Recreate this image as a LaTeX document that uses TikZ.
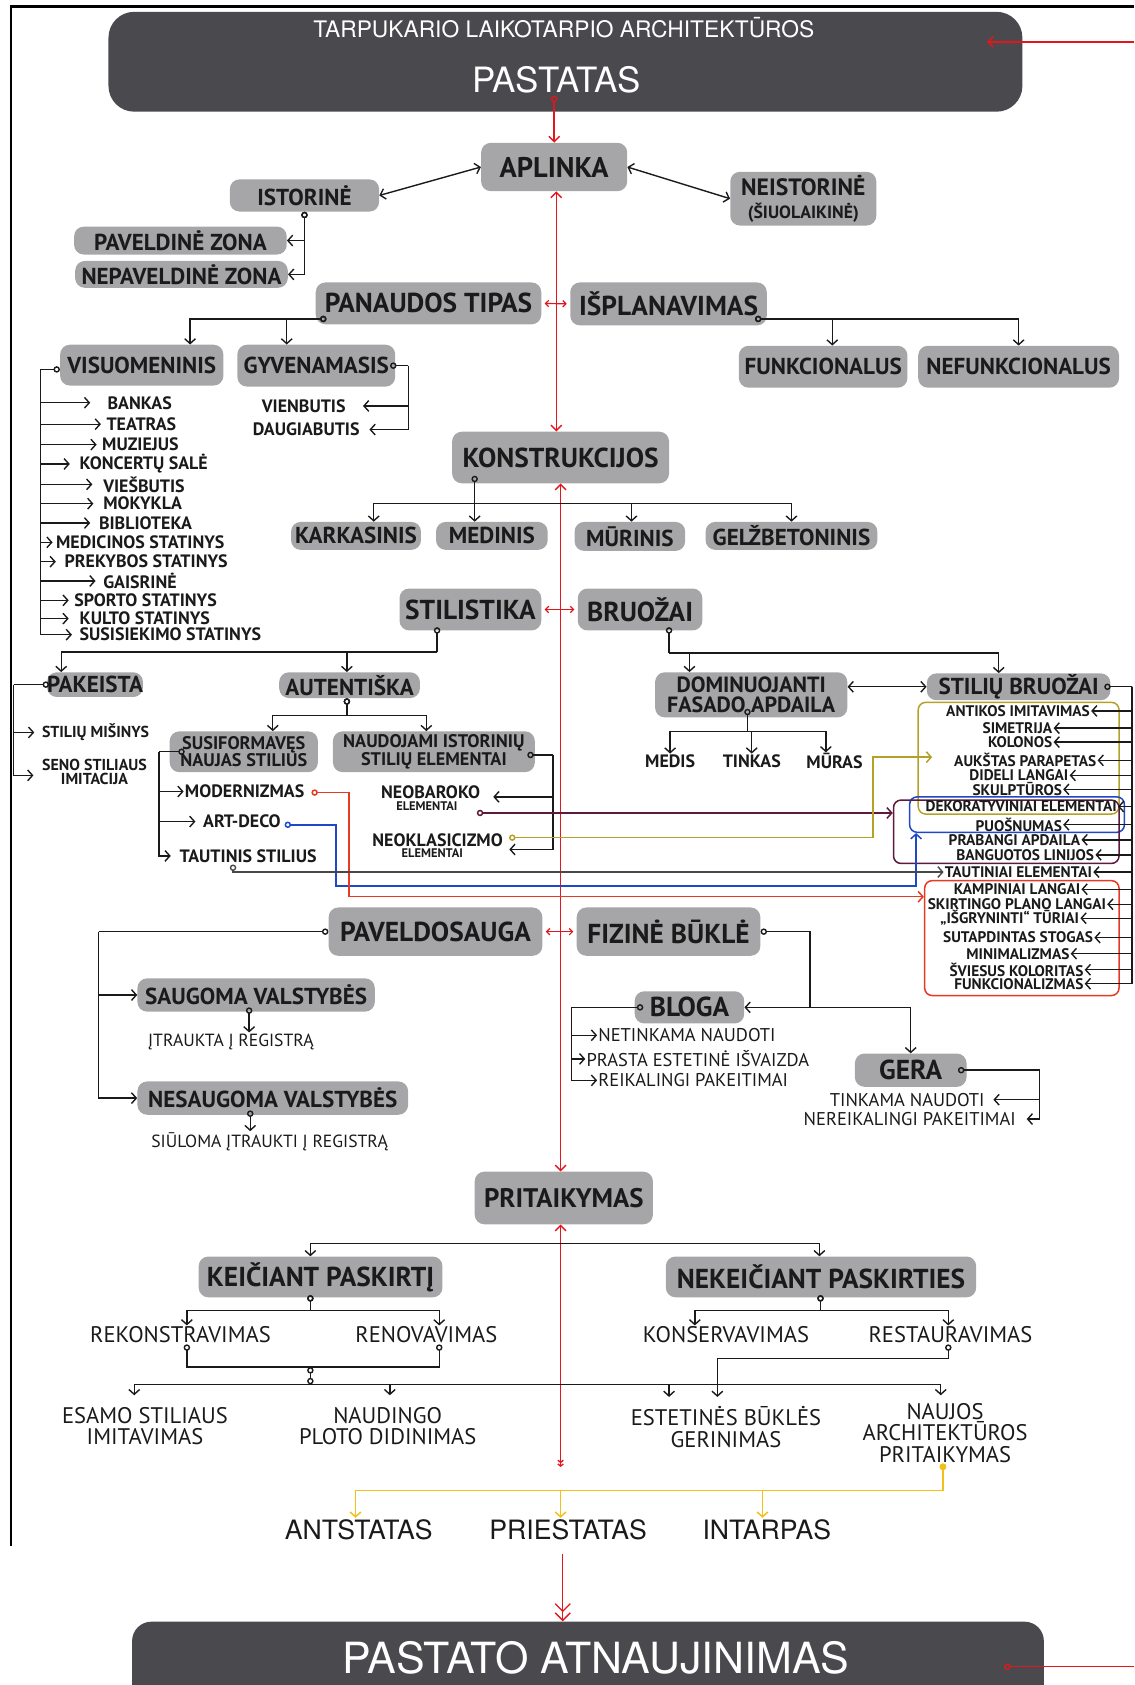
\documentclass[tikz,border=0pt]{standalone}
\usepackage{fontspec}
\setmainfont{PT Sans}
\newfontfamily\headfont{TeX Gyre Heros}
\usetikzlibrary{arrows.meta}

\definecolor{boxgray}{RGB}{166,166,168}
\definecolor{darkfill}{RGB}{74,74,78}
\definecolor{ink}{RGB}{26,26,26}
\definecolor{spine}{RGB}{226,22,28}
\definecolor{olivec}{RGB}{180,162,40}
\definecolor{bluec}{RGB}{30,72,200}
\definecolor{maroonc}{RGB}{92,26,60}
\definecolor{redc}{RGB}{230,58,36}
\definecolor{yellowc}{RGB}{243,192,26}

\tikzset{
	gbox/.style={fill=boxgray, rounded corners=9pt, inner sep=0pt, text=ink, align=center},
	bigbox/.style={gbox, font=\bfseries\fontsize{25.5}{26}\selectfont},
	midbox/.style={gbox, font=\bfseries\fontsize{21.5}{22}\selectfont},
	smlbox/.style={gbox, font=\bfseries\fontsize{17}{16}\selectfont},
	headbox/.style={fill=darkfill, rounded corners=24pt, inner sep=0pt},
	headtxt/.style={text=white, inner sep=0pt},
	lbl/.style={inner sep=1pt, text=ink, align=center, font=\bfseries\fontsize{16.7}{18}\selectfont},
	plbl/.style={inner sep=1pt, text=ink, align=center, font=\fontsize{17.2}{18}\selectfont},
	item/.style={inner sep=1pt, text=ink, anchor=east, font=\bfseries\fontsize{14.3}{14}\selectfont},
	sub/.style={inner sep=1pt, text=ink, align=center, font=\fontsize{21}{20}\selectfont},
	ext/.style={inner sep=1pt, text=ink, font=\headfont\fontsize{24.8}{26}\selectfont},
	frm/.style={rounded corners=7pt, line width=1.4pt, inner sep=0pt},
	con/.style={draw=ink, line width=1.3pt, -{Straight Barb[length=4.5pt,width=10pt]}},
	ocon/.style={con, {Circle[open,length=6pt,width=6pt]}-{Straight Barb[length=4.5pt,width=10pt]}},
	dcon/.style={con, {Straight Barb[length=4.5pt,width=10pt]}-{Straight Barb[length=4.5pt,width=10pt]}},
	lnk/.style={draw=ink, line width=1.3pt, {Circle[open,length=6pt,width=6pt]}-},
	colcon/.style={line width=1.4pt, {Circle[open,length=6pt,width=6pt]}-{Straight Barb[length=4.5pt,width=10pt]}},
	ycon/.style={draw=yellowc, line width=1.4pt, {Circle[length=6pt,width=6pt]}-{Straight Barb[length=4.5pt,width=10pt]}},
	rcon/.style={draw=spine, line width=1.3pt, -{Straight Barb[length=5pt,width=10pt]}},
	rdcon/.style={rcon, {Straight Barb[length=5pt,width=10pt]}-{Straight Barb[length=5pt,width=10pt]}},
	rocon/.style={rcon, {Circle[open,length=6pt,width=6pt]}-{Straight Barb[length=5pt,width=10pt]}},
	rlnk/.style={draw=spine, line width=1.3pt, {Circle[open,length=6pt,width=6pt]}-},
	rsmall/.style={draw=spine, line width=1.1pt, shorten <=3pt, shorten >=3pt, {Straight Barb[length=3pt,width=6pt]}-{Straight Barb[length=3pt,width=6pt]}},
}

\begin{document}
\begin{tikzpicture}[x=1pt,y=-1pt]
	\useasboundingbox (0,0) rectangle (1056,1569);
	\draw[line width=2pt] (1056,6) -- (10,6) -- (10,1440);

	\node[headbox, minimum width=851pt, minimum height=93pt] (pastatas) at (526.5,57.5) {};
	\node[headtxt, font=\headfont\fontsize{21.2}{22}\selectfont] (tarp) at (525,26) {TARPUKARIO LAIKOTARPIO ARCHITEKTŪROS};
	\node[headtxt, font=\headfont\fontsize{32.5}{34}\selectfont] (pastxt) at (518,74) {PASTATAS};

	\node[bigbox, font=\bfseries\fontsize{26.5}{28}\selectfont, minimum width=136pt, minimum height=45pt] (aplinka) at (516,155.5) {APLINKA};
	\node[midbox, minimum width=139pt, minimum height=30pt] (istorine) at (283.5,182) {ISTORINĖ};
	\node[gbox, font=\bfseries\fontsize{22}{22}\selectfont, minimum width=136pt, minimum height=50pt] (neistorine) at (748,185) {NEISTORINĖ\\{\fontsize{16.5}{18}\selectfont(ŠIUOLAIKINĖ)}};
	\node[midbox, minimum width=198pt, minimum height=26pt] (paveldine) at (168,224) {PAVELDINĖ ZONA};
	\node[midbox, minimum width=198pt, minimum height=25pt] (nepaveldine) at (169,255.5) {NEPAVELDINĖ ZONA};
	\node[bigbox, minimum width=210pt, minimum height=39pt] (panaudos) at (399,282.5) {PANAUDOS TIPAS};
	\node[bigbox, minimum width=183pt, minimum height=40pt] (isplan) at (622.5,283) {IŠPLANAVIMAS};
	\node[midbox, minimum width=152pt, minimum height=38pt] (visuom) at (132,340) {VISUOMENINIS};
	\node[midbox, minimum width=147pt, minimum height=39pt] (gyven) at (294.5,340.5) {GYVENAMASIS};
	\node[midbox, minimum width=157pt, minimum height=39pt] (funk) at (766.5,341.5) {FUNKCIONALUS};
	\node[midbox, minimum width=187pt, minimum height=39pt] (nefunk) at (948.5,341.5) {NEFUNKCIONALUS};

	\node[lbl, anchor=west] (bankas) at (99,375) {BANKAS};
	\node[lbl, anchor=west] (teatras) at (98,395) {TEATRAS};
	\node[lbl, anchor=west] (muziejus) at (94,414) {MUZIEJUS};
	\node[lbl, anchor=west] (koncertu) at (73,432) {KONCERTŲ SALĖ};
	\node[lbl, anchor=west] (viesbutis) at (95,451) {VIEŠBUTIS};
	\node[lbl, anchor=west] (mokykla) at (95,469) {MOKYKLA};
	\node[lbl, anchor=west] (biblioteka) at (91,487) {BIBLIOTEKA};
	\node[lbl, anchor=west] (medicinos) at (51,505) {MEDICINOS STATINYS};
	\node[lbl, anchor=west] (prekybos) at (59,523) {PREKYBOS STATINYS};
	\node[lbl, anchor=west] (gaisrine) at (95,541) {GAISRINĖ};
	\node[lbl, anchor=west] (sporto) at (68,559) {SPORTO STATINYS};
	\node[lbl, anchor=west] (kulto) at (73,576) {KULTO STATINYS};
	\node[lbl, anchor=west] (susisiekimo) at (73,591) {SUSISIEKIMO STATINYS};
	\node[lbl, anchor=east] (vienbutis) at (323,378) {VIENBUTIS};
	\node[lbl, anchor=east] (daugiabutis) at (336,400) {DAUGIABUTIS};

	\node[bigbox, minimum width=202pt, minimum height=48pt] (konstr) at (522,426) {KONSTRUKCIJOS};
	\node[midbox, minimum width=121pt, minimum height=26pt] (karkas) at (331.5,499) {KARKASINIS};
	\node[midbox, minimum width=104pt, minimum height=26pt] (medinis) at (458,499) {MEDINIS};
	\node[midbox, minimum width=103pt, minimum height=27pt] (murinis) at (586.5,499.5) {MŪRINIS};
	\node[midbox, minimum width=160pt, minimum height=26pt] (gelz) at (737,499) {GELŽBETONINIS};
	\node[bigbox, minimum width=132pt, minimum height=39pt] (stilist) at (438,567.5) {STILISTIKA};
	\node[bigbox, minimum width=116pt, minimum height=39pt] (bruozai) at (596,567.5) {BRUOŽAI};

	\node[midbox, minimum width=89pt, minimum height=23pt] (pakeista) at (88.5,637.5) {PAKEISTA};
	\node[midbox, minimum width=131pt, minimum height=24pt] (autent) at (325.5,638) {AUTENTIŠKA};
	\node[smlbox, minimum width=138pt, minimum height=38pt] (susif) at (227,700) {SUSIFORMAVĘS\\NAUJAS STILIUS};
	\node[smlbox, minimum width=188pt, minimum height=38pt] (naudoj) at (404,700) {NAUDOJAMI ISTORINIŲ\\STILIŲ ELEMENTAI};
	\node[lbl, font=\bfseries\fontsize{14.8}{13.5}\selectfont] (misinys) at (89,682) {STILIŲ MIŠINYS};
	\node[lbl, font=\bfseries\fontsize{14.8}{13.5}\selectfont] (seno) at (88,719) {SENO STILIAUS\\IMITACIJA};
	\node[lbl, anchor=west] (modern) at (171,737) {MODERNIZMAS};
	\node[lbl, anchor=west] (artdeco) at (188,765) {ART-DECO};
	\node[lbl, anchor=west] (tautinis) at (166,797) {TAUTINIS STILIUS};
	\node[lbl] (neobar) at (401,738) {NEOBAROKO};
	\node[lbl, font=\bfseries\fontsize{11.6}{12}\selectfont] (neobarel) at (397.5,751) {ELEMENTAI};
	\node[lbl] (neokl) at (407.5,782) {NEOKLASICIZMO};
	\node[lbl, font=\bfseries\fontsize{11.6}{12}\selectfont] (neoklel) at (402.5,794) {ELEMENTAI};

	\node[gbox, font=\bfseries\fontsize{20.5}{18}\selectfont, minimum width=179pt, minimum height=42pt] (domin) at (699.5,647) {DOMINUOJANTI\\FASADO APDAILA};
	\node[midbox, minimum width=171pt, minimum height=25pt] (stbr) at (948.5,639.5) {STILIŲ BRUOŽAI};
	\node[lbl] (medis) at (624,709) {MEDIS};
	\node[lbl] (tinkas) at (700,709) {TINKAS};
	\node[lbl] (muras) at (777,709) {MŪRAS};

	\node[frm, draw=olivec, minimum width=187pt, minimum height=104pt] (olivebox) at (948.5,706) {};
	\node[frm, draw=bluec, minimum width=200pt, minimum height=33pt] (bluebox) at (947,758.5) {};
	\node[frm, draw=maroonc, minimum width=210pt, minimum height=59pt] (maroonbox) at (937,774.5) {};
	\node[frm, draw=redc, minimum width=181pt, minimum height=107pt] (redbox) at (951.5,873.5) {};

	\node[item] (antikos) at (1016,662) {ANTIKOS IMITAVIMAS};
	\node[item] (simetrija) at (981,678) {SIMETRIJA};
	\node[item] (kolonos) at (981,691) {KOLONOS};
	\node[item] (parapetas) at (1022,708) {AUKŠTAS PARAPETAS};
	\node[item] (langai) at (996,722) {DIDELI LANGAI};
	\node[item] (skulpturos) at (990,735) {SKULPTŪROS};
	\node[item] (dekor) at (1041,751) {DEKORATYVINIAI ELEMENTAI};
	\node[item] (puosnumas) at (990,768) {PUOŠNUMAS};
	\node[item] (prabangi) at (1007,782) {PRABANGI APDAILA};
	\node[item] (banguotos) at (1020,796) {BANGUOTOS LINIJOS};
	\node[item] (tautiniai) at (1018,812) {TAUTINIAI ELEMENTAI};
	\node[item] (kampiniai) at (1007,828) {KAMPINIAI LANGAI};
	\node[item] (skirtingo) at (1031,842) {SKIRTINGO PLANO LANGAI};
	\node[item] (isgryninti) at (1006,855) {„IŠGRYNINTI“ TŪRIAI};
	\node[item] (stogas) at (1019,873) {SUTAPDINTAS STOGAS};
	\node[item] (minimal) at (997,888) {MINIMALIZMAS};
	\node[item] (kolorit) at (1010,903) {ŠVIESUS KOLORITAS};
	\node[item] (funkcion) at (1010,916) {FUNKCIONALIZMAS};

	\node[bigbox, minimum width=199pt, minimum height=45pt] (pavel) at (405.5,867.5) {PAVELDOSAUGA};
	\node[bigbox, minimum width=171pt, minimum height=45pt] (fizine) at (622.5,867.5) {FIZINĖ BŪKLĖ};
	\node[midbox, minimum width=221pt, minimum height=31pt] (saugoma) at (238.5,926.5) {SAUGOMA VALSTYBĖS};
	\node[midbox, minimum width=252pt, minimum height=31pt] (nesaug) at (254,1022.5) {NESAUGOMA VALSTYBĖS};
	\node[plbl, font=\fontsize{16.4}{18}\selectfont] (itraukta) at (215,970) {ĮTRAUKTA Į REGISTRĄ};
	\node[plbl, font=\fontsize{16.4}{18}\selectfont] (siuloma) at (251,1063) {SIŪLOMA ĮTRAUKTI Į REGISTRĄ};
	\node[bigbox, minimum width=102pt, minimum height=30pt] (bloga) at (642,938) {BLOGA};
	\node[bigbox, minimum width=104pt, minimum height=31pt] (gera) at (848,996.5) {GERA};
	\node[plbl, anchor=west] (netinkama) at (556,964) {NETINKAMA NAUDOTI};
	\node[plbl, anchor=west] (prasta) at (545,986) {PRASTA ESTETINĖ IŠVAIZDA};
	\node[plbl, anchor=west] (reikalingi) at (556,1006) {REIKALINGI PAKEITIMAI};
	\node[plbl, anchor=east] (tinkama) at (918,1024) {TINKAMA NAUDOTI};
	\node[plbl, anchor=east] (nereik) at (947,1042) {NEREIKALINGI PAKEITIMAI};

	\node[bigbox, font=\bfseries\fontsize{25}{24}\selectfont, minimum width=166pt, minimum height=49pt] (pritaik) at (525,1115.5) {PRITAIKYMAS};
	\node[bigbox, minimum width=227pt, minimum height=38pt] (keic) at (298.5,1189) {KEIČIANT PASKIRTĮ};
	\node[bigbox, minimum width=289pt, minimum height=38pt] (nekeic) at (764.5,1189) {NEKEIČIANT PASKIRTIES};
	\node[sub] (rekon) at (168,1243) {REKONSTRAVIMAS};
	\node[sub] (renov) at (397,1243) {RENOVAVIMAS};
	\node[sub] (konserv) at (676,1243) {KONSERVAVIMAS};
	\node[sub] (restaur) at (885,1243) {RESTAURAVIMAS};
	\node[sub] (esamo) at (135,1328) {ESAMO STILIAUS\\IMITAVIMAS};
	\node[sub] (naudingo) at (361,1328) {NAUDINGO\\PLOTO DIDINIMAS};
	\node[sub] (estet) at (676,1329) {ESTETINĖS BŪKLĖS\\GERINIMAS};
	\node[sub] (naujos) at (880,1334) {NAUJOS\\ARCHITEKTŪROS\\PRITAIKYMAS};
	\node[ext] (antstatas) at (334,1424) {ANTSTATAS};
	\node[ext] (priestatas) at (529,1424) {PRIESTATAS};
	\node[ext] (intarpas) at (714,1424) {INTARPAS};
	\node[headbox, rounded corners=18pt, minimum width=849pt, minimum height=120pt] (atnauj) at (547.5,1570) {};
	\node[headtxt, font=\headfont\fontsize{40}{42}\selectfont] (atntxt) at (555,1544) {PASTATO ATNAUJINIMAS};

	\coordinate (pc) at (516,89);
	\draw[rocon] (pc) -- (aplinka.north);
	\draw[rdcon] ([xshift=2pt]aplinka.south) -- ([xshift=-4pt]konstr.north);
	\draw[rdcon] (konstr.south) -- (konstr.south |- pritaik.north);
	\coordinate (rz) at (522,1366);
	\draw[rcon, {Straight Barb[length=5pt,width=10pt]}-{Straight Barb[length=2pt,width=5pt] Straight Barb[length=2pt,width=5pt]}] (rz |- pritaik.south) -- (rz);
	\draw[rsmall] (panaudos.east) -- (isplan.west);
	\draw[rsmall] (stilist.east) -- (bruozai.west);
	\draw[rsmall] (pavel.east) -- (fizine.west);
	\coordinate (rs) at (524,1447);
	\draw[rcon, -{Straight Barb[length=7pt,width=14pt] Straight Barb[length=7pt,width=14pt]}] (rs) -- (rs |- atnauj.north);
	\coordinate (rt) at (1056,39);
	\coordinate (rti) at (919,39);
	\draw[rcon] (rt) -- (rti);
	\coordinate (rb) at (935,1552);
	\coordinate (rbe) at (1056,1552);
	\draw[rlnk] (rb) -- (rbe);

	\draw[dcon] (aplinka.west) -- (istorine.east);
	\draw[dcon] (aplinka.east) -- (neistorine.west);
	\draw[ocon] (istorine.south) |- (paveldine.east);
	\draw[ocon] (istorine.south) |- (nepaveldine.east);

	\coordinate (pt) at (304,297);
	\draw[ocon] (pt) -| ([xshift=45pt]visuom.north);
	\draw[ocon] (pt) -| ([xshift=-27.5pt]gyven.north);
	\draw[lnk] ([yshift=-4pt]visuom.west) -- ++(-18,0) coordinate (vm);
	\draw[con, shorten >=15pt] (vm) |- (bankas.west);
	\draw[con, shorten >=4pt] (vm) |- (teatras.west);
	\draw[con, shorten >=4pt] (vm) |- (muziejus.west);
	\draw[con, shorten >=8pt] (vm) |- (koncertu.west);
	\draw[con, shorten >=9pt] (vm) |- (viesbutis.west);
	\draw[con, shorten >=8pt] (vm) |- (mokykla.west);
	\draw[con, shorten >=7pt] (vm) |- (biblioteka.west);
	\draw[con, shorten >=2pt] (vm) |- (medicinos.west);
	\draw[con, shorten >=7pt] (vm) |- (prekybos.west);
	\draw[con, shorten >=6pt] (vm) |- (gaisrine.west);
	\draw[con, shorten >=4pt] (vm) |- (sporto.west);
	\draw[con, shorten >=9pt] (vm) |- (kulto.west);
	\draw[con, shorten >=6pt] (vm) |- (susisiekimo.west);
	\draw[lnk] ([xshift=-5pt]gyven.east) -- ++(17,0) coordinate (gv);
	\draw[con, shorten >=15pt] (gv) |- (vienbutis.east);
	\draw[con, shorten >=8pt] (gv) |- (daugiabutis.east);

	\coordinate (ip) at (703,297);
	\draw[ocon] (ip) -| ([xshift=8.5pt]funk.north);
	\draw[ocon] (ip) -| (nefunk.north);

	\coordinate (kc) at (442,443);
	\draw[lnk] (kc) -- ++(0,26) coordinate (kh);
	\draw[con] (kh) -| ([xshift=16.5pt]karkas.north);
	\draw[con] (kh) -| ([xshift=-16pt]medinis.north);
	\draw[con] (kh) -| ([xshift=1.5pt]murinis.north);
	\draw[con] (kh) -| (gelz.north);

	\coordinate (sc) at (407,584);
	\draw[lnk] (sc) -- ++(0,23) coordinate (sh);
	\draw[con] (sh) -| ([xshift=-31.5pt]pakeista.north);
	\draw[con] (sh) -| ([xshift=-2.5pt]autent.north);
	\draw[lnk] ([xshift=2pt]pakeista.west) -- ++(-33,0) coordinate (pk);
	\draw[con, shorten >=6pt] (pk) |- (misinys.west);
	\draw[con, shorten >=7pt] (pk) |- ([yshift=-3pt]seno.west);
	\draw[ocon] ([xshift=-2.5pt]autent.south) -- ++(0,16) -| ([xshift=27pt]susif.north);
	\draw[ocon] ([xshift=-2.5pt]autent.south) -- ++(0,16) -| ([xshift=-7pt]naudoj.north);
	\coordinate (sf) at (172,700);
	\draw[lnk] (sf) -- ++(-24,0) coordinate (sv);
	\draw[con] (sv) |- (modern.west);
	\draw[con, shorten >=6pt] (sv) |- (artdeco.west);
	\draw[con, shorten >=7pt] (sv) |- (tautinis.west);
	\coordinate (nj) at (491,703);
	\draw[lnk] (nj) -- ++(24,0) coordinate (nv);
	\draw[con] (nv) |- ([xshift=11pt,yshift=-4pt]neobar.east);
	\draw[con] (nv) |- ([xshift=42pt,yshift=3pt]neoklel.east);

	\coordinate (mc) at (444,757);
	\draw[colcon, draw=maroonc] (mc) -- (mc -| maroonbox.west);
	\coordinate (oc) at (474,780);
	\coordinate (oe) at (868,705);
	\draw[colcon, draw=olivec] (oc) -- ++(339,0) |- (oe);
	\coordinate (bc) at (265,768);
	\draw[colcon, draw=bluec] (bc) -| ++(48,57) -| ([xshift=-94pt]bluebox.south);
	\coordinate (rc) at (290,738);
	\draw[colcon, draw=redc] (rc) -| ++(35,97) -- ([yshift=38.5pt]redbox.west);
	\coordinate (tc) at (217,805);
	\draw[ocon, draw=ink!80] (tc) |- (tautiniai.west);

	\coordinate (bz) at (623,584);
	\draw[lnk] (bz) -- ++(0,24) coordinate (bh);
	\draw[con] (bh) -| ([xshift=-57.5pt]domin.north);
	\draw[con] (bh) -| ([xshift=-18.5pt]stbr.north);
	\draw[dcon] (stbr.west -| domin.east) -- (stbr.west);
	\coordinate (dm) at (696,660);
	\draw[lnk] (dm) -- ++(0,21) coordinate (dh);
	\draw[con] (dh) -| (medis.north);
	\draw[con] (dh) -| (tinkas.north);
	\draw[con] (dh) -| ([xshift=-8pt]muras.north);
	\draw[lnk] ([xshift=-6pt]stbr.east) -- ++(26,0) coordinate (sb);
	\draw[con] (sb) |- (antikos.east);
	\draw[con] (sb) |- (simetrija.east);
	\draw[con] (sb) |- (kolonos.east);
	\draw[con] (sb) |- (parapetas.east);
	\draw[con] (sb) |- (langai.east);
	\draw[con] (sb) |- (skulpturos.east);
	\draw[con] (sb) |- (dekor.east);
	\draw[con] (sb) |- (puosnumas.east);
	\draw[con] (sb) |- (prabangi.east);
	\draw[con] (sb) |- (banguotos.east);
	\draw[con] (sb) |- (tautiniai.east);
	\draw[con] (sb) |- (kampiniai.east);
	\draw[con] (sb) |- (skirtingo.east);
	\draw[con] (sb) |- (isgryninti.east);
	\draw[con] (sb) |- (stogas.east);
	\draw[con] (sb) |- (minimal.east);
	\draw[con] (sb) |- (kolorit.east);
	\draw[con] (sb) |- (funkcion.east);

	\draw[lnk] (pavel.west) -- ++(-214,0) coordinate (pv);
	\draw[con] (pv) |- (saugoma.west);
	\draw[con] (pv) |- (nesaug.west);
	\coordinate (sg) at (232,938);
	\draw[ocon] (sg) -- (sg |- itraukta.north);
	\coordinate (ns) at (233,1034);
	\draw[ocon] (ns) -- (ns |- siuloma.north);
	\draw[lnk] (fizine.east) -| ([xshift=61pt]bloga.east) coordinate (fv);
	\draw[con] (fv) -- (bloga.east);
	\draw[con] (fv) -| (gera.north);
	\coordinate (bl) at (599,938);
	\draw[lnk] (bl) -- ++(-67,0) coordinate (blv);
	\draw[con] (blv) |- (netinkama.west);
	\draw[con] (blv) |- (prasta.west);
	\draw[con] (blv) |- (reikalingi.west);
	\coordinate (gr) at (892,996.5);
	\draw[lnk] (gr) -- ++(76,0) coordinate (gv2);
	\draw[con, shorten >=7pt] (gv2) |- (tinkama.east);
	\draw[con, shorten >=9pt] (gv2) |- (nereik.east);

	\coordinate (ph) at (525,1158);
	\draw[con] (ph) -| ([xshift=-9.5pt]keic.north);
	\draw[con] (ph) -| ([xshift=-1.5pt]nekeic.north);
	\coordinate (kp) at (289,1206);
	\draw[ocon] (kp) -- ++(0,14) -| ([xshift=6pt]rekon.north);
	\draw[ocon] (kp) -- ++(0,14) -| ([xshift=12pt]renov.north);
	\coordinate (np) at (764,1206);
	\draw[ocon] (np) -- ++(0,14) -| ([xshift=-29pt]konserv.north);
	\draw[ocon] (np) -- ++(0,14) -| ([xshift=-2pt]restaur.north);
	\coordinate (jn) at (289,1273);
	\draw[lnk] ([xshift=6pt]rekon.south) |- (jn);
	\draw[lnk] ([xshift=12pt]renov.south) |- (jn);
	\draw[lnk, {Circle[open,length=6pt,width=6pt]}-{Circle[open,length=6pt,width=6pt]}] (jn) -- ++(0,16) coordinate (jb);
	\draw[con, shorten >=10pt] (jb) -| ([xshift=-10pt]esamo.north);
	\draw[con, shorten >=10pt] (jb) -| ([xshift=2pt]naudingo.north);
	\draw[con, shorten >=8pt] (jb) -| ([xshift=-53pt]estet.north);
	\draw[con, shorten >=6pt] (jb) -| ([xshift=-4pt]naujos.north);
	\draw[ocon, shorten >=8pt] ([xshift=-2pt]restaur.south) -- ++(0,13) -| ([xshift=-8pt]estet.north);

	\draw[ycon] ([xshift=-2pt]naujos.south) -- ++(0,25) -| ([xshift=-3pt]antstatas.north);
	\draw[ycon] ([xshift=-2pt]naujos.south) -- ++(0,25) -| ([xshift=-7pt]priestatas.north);
	\draw[ycon] ([xshift=-2pt]naujos.south) -- ++(0,25) -| ([xshift=-4pt]intarpas.north);
\end{tikzpicture}
\end{document}
